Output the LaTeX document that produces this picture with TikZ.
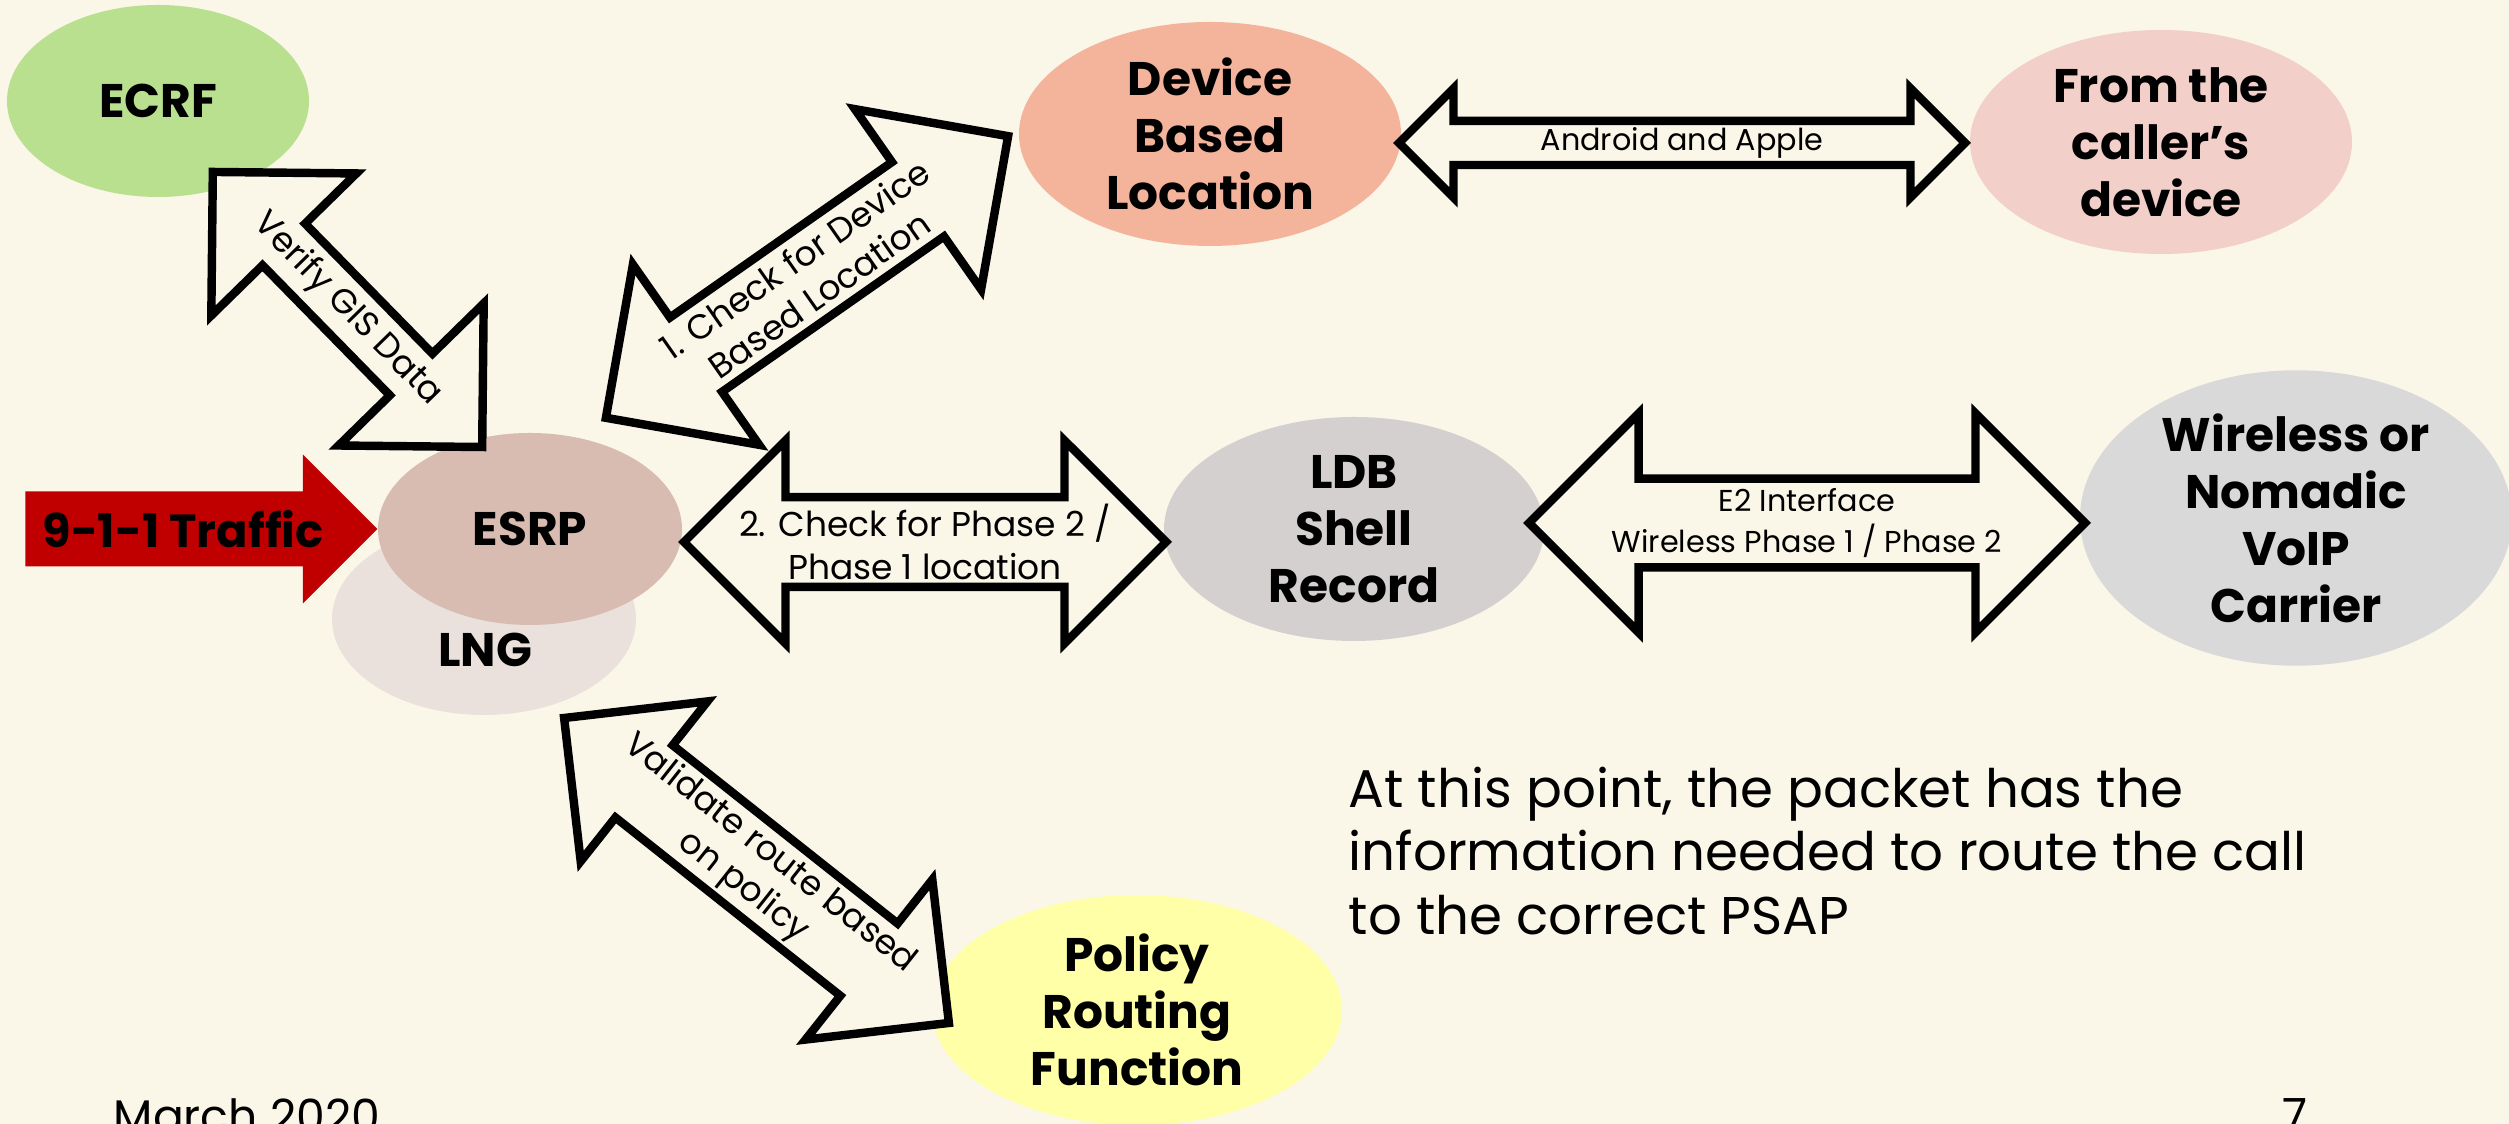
\documentclass[tikz,border=0pt]{standalone}
\usepackage{fontspec}
\setmainfont{Poppins}
\usetikzlibrary{shapes.geometric,shapes.arrows}

\definecolor{slidebg}{RGB}{250,246,232}
\definecolor{ecrfgreen}{RGB}{185,224,143}
\definecolor{esrpbrown}{RGB}{216,188,178}
\definecolor{lngpink}{RGB}{234,224,220}
\definecolor{devsalmon}{RGB}{244,179,155}
\definecolor{callerpink}{RGB}{243,207,201}
\definecolor{ldbgray}{RGB}{213,208,208}
\definecolor{carriergray}{RGB}{217,217,217}
\definecolor{policyyellow}{RGB}{255,255,168}
\definecolor{trafficred}{RGB}{192,0,0}

\begin{document}
\begin{tikzpicture}[
    blob/.style={ellipse, inner sep=0pt, align=center,
        font=\bfseries\fontsize{13.4}{16.2}\selectfont},
    fatarrow/.style={double arrow, draw=black, fill=slidebg, line width=2.4pt,
        double arrow tip angle=90, inner sep=0pt, align=center,
        font=\fontsize{9.8}{12}\selectfont},
    thinlabel/.style={font=\fontsize{8.6}{11.5}\selectfont},
  ]
    \fill[slidebg] (0,0) rectangle (25.09,11.24);
    \useasboundingbox (0,0) rectangle (25.09,11.24);

    \node[blob, fill=ecrfgreen, minimum width=3.02cm, minimum height=1.92cm] (ecrf) at (1.58,10.23) {ECRF};
    \node[blob, fill=lngpink, minimum width=3.04cm, minimum height=1.92cm] (lng) at (4.84,5.05) {};
    \node[blob] (lngtext) at (4.85,4.74) {LNG};
    \node[blob, fill=esrpbrown, minimum width=3.04cm, minimum height=1.92cm] (esrp) at (5.30,5.95) {ESRP};

    \node[blob, fill=devsalmon, minimum width=3.82cm, minimum height=2.24cm] (device) at (12.10,9.90) {Device\\Based\\Location};
    \node[blob, fill=callerpink, minimum width=3.82cm, minimum height=2.24cm] (caller) at (21.61,9.82) {From the\\caller’s\\device};
    \node[blob, fill=ldbgray, minimum width=3.80cm, minimum height=2.24cm] (ldb) at (13.54,5.95) {LDB\\Shell\\Record};
    \node[blob, fill=carriergray, minimum width=4.32cm, minimum height=2.88cm] (carrier) at (22.96,6.06) {Wireless or\\Nomadic\\VoIP\\Carrier};
    \node[blob, fill=policyyellow, minimum width=4.10cm, minimum height=2.30cm] (prf) at (11.37,1.14) {Policy\\Routing\\Function};

    \fill[trafficred] (esrp.west) -- ++(-0.745,0.745) -- ++(0,-0.37) -- ++(-2.775,0) -- ++(0,-0.75)
        -- ++(2.775,0) -- ++(0,-0.37) -- cycle;
    \node[font=\bfseries\fontsize{13.2}{16}\selectfont] (traffic) at (1.83,5.95) {9-1-1 Traffic};

    \node[fatarrow, rotate=-45.6, double arrow head extend=0.525cm, minimum width=2.03cm, minimum height=3.85cm] (verify) at (3.475,8.145) {Verify GIS Data};
    \node[fatarrow, rotate=35, double arrow head extend=0.55cm, minimum width=2.20cm, minimum height=4.91cm] (devcheck) at (8.07,8.47) {1. Check for Device\\Based Location};
    \node[fatarrow, rotate=-38.4, double arrow head extend=0.52cm, minimum width=2.04cm, minimum height=4.91cm] (validate) at (7.565,2.535) {Validate route based\\on policy};
    \node[fatarrow, double arrow head extend=0.525cm, minimum width=2.03cm, minimum height=4.82cm] (phase) at (9.25,5.82) {2. Check for Phase 2 /\\Phase 1 location};
    \node[fatarrow, thinlabel, double arrow head extend=0.29cm, minimum width=1.09cm, minimum height=5.66cm] (android) at (16.82,9.81) {Android and Apple};
    \node[fatarrow, thinlabel, double arrow head extend=0.565cm, minimum width=2.19cm, minimum height=5.56cm] (e2) at (18.07,6.01) {E2 Interface\\Wireless Phase 1 / Phase 2};

    \node[anchor=north west, inner sep=0pt, align=left, font=\fontsize{15.1}{18.1}\selectfont] (note) at (13.48,3.58)
        {At this point, the packet has the\\information needed to route the call\\to the correct PSAP};
    \node[anchor=north west, inner sep=0pt, font=\fontsize{13}{15}\selectfont] (date) at (1.13,0.26) {March 2020};
    \node[anchor=north west, inner sep=0pt, font=\fontsize{13}{15}\selectfont] (pagenum) at (22.82,0.26) {7};
\end{tikzpicture}
\end{document}
